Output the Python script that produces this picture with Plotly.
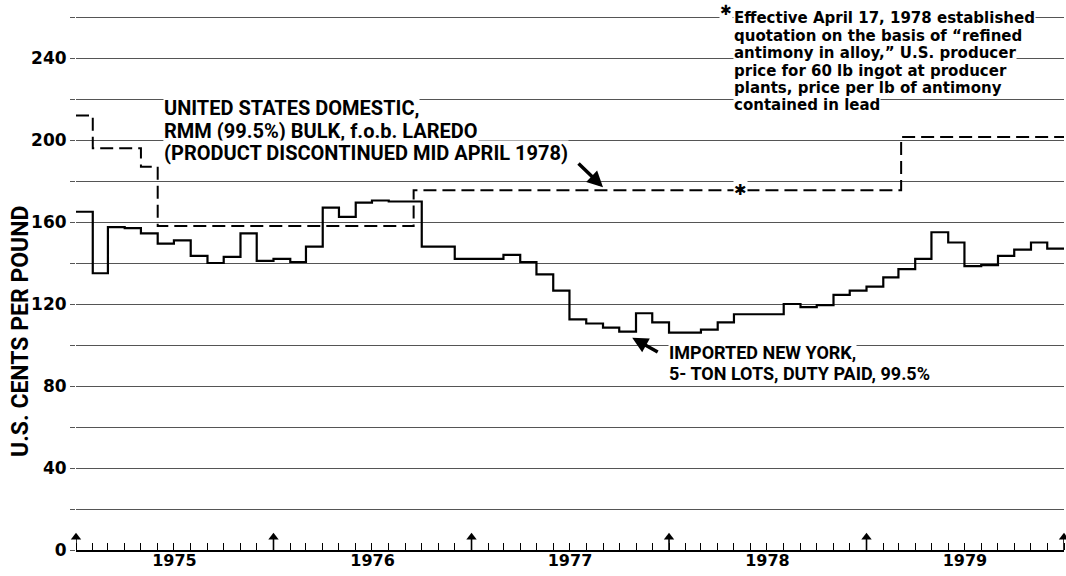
import plotly.graph_objects as go
import pandas as pd

# ---------------- data ----------------
months = list(pd.date_range("1975-01-01", "1979-12-01", freq="MS"))
imported_ny = [
    165, 135, 157.5, 157, 154.5, 149.5, 151, 143.5, 140, 143, 154.5, 141,      # 1975
    142, 140.5, 148, 167, 162.5, 169.5, 170.5, 170, 170, 148, 148, 142,        # 1976
    142, 142, 144, 140.5, 134.5, 126.5, 112.5, 110.5, 108.5, 106.5, 115.5, 111,  # 1977
    106, 106, 107.5, 111, 115, 115, 115, 120, 118.5, 119.5, 124.5, 126.5,      # 1978
    128.5, 133, 137, 142, 155, 150, 138.5, 139, 143.5, 146.5, 150, 147,        # 1979
]
end_date = "1980-01-01"

domestic_dates = ["1975-01-01", "1975-02-01", "1975-05-01", "1975-06-01",
                  "1976-09-16", "1979-03-06", "1980-01-01"]
domestic_vals = [212, 196, 187, 158, 175.5, 201.5, 201.5]

asterisk_date = "1978-05-13"
asterisk_val = 175.5

year_bounds = ["1975-01-01", "1976-01-01", "1977-01-01", "1978-01-01",
               "1979-01-01", "1980-01-01"]
year_label_pos = ["1975-07-02", "1976-07-02", "1977-07-02", "1978-07-02", "1979-07-02"]
year_labels = ["1975", "1976", "1977", "1978", "1979"]

ytick_vals = [0, 20, 40, 60, 80, 100, 120, 140, 160, 180, 200, 220, 240, 260]
ytick_text = ["0", "", "40", "", "80", "", "120", "", "160", "", "200", "", "240", ""]

domestic_label = ["UNITED STATES DOMESTIC,",
                  "RMM (99.5%) BULK, f.o.b. LAREDO",
                  "(PRODUCT DISCONTINUED MID APRIL 1978)"]
imported_label = ["IMPORTED NEW YORK,",
                  "5- TON LOTS, DUTY PAID, 99.5%"]
footnote = ["Effective April 17, 1978 established",
            "quotation on the basis of \u201crefined",
            "antimony in alloy,\u201d U.S. producer",
            "price for 60 lb ingot at producer",
            "plants, price per lb of antimony",
            "contained in lead"]

# ---------------- layout constants ----------------
W, H = 1066, 576
ML, MR, MT, MB = 76, 2, 0, 26
PW, PH = W - ML - MR, H - MT - MB
TXT = "Roboto, 'DejaVu Sans', sans-serif"
NUM = "'DejaVu Sans', sans-serif"

fig = go.Figure()

# domestic (dashed)
fig.add_trace(go.Scatter(
    x=domestic_dates, y=domestic_vals, mode="lines", line_shape="hv",
    line=dict(color="black", width=2, dash="13px,6px"), hoverinfo="skip", showlegend=False))

# imported NY (solid)
fig.add_trace(go.Scatter(
    x=months + [pd.Timestamp(end_date)], y=imported_ny + [imported_ny[-1]],
    mode="lines", line_shape="hv", line=dict(color="black", width=2.2),
    hoverinfo="skip", showlegend=False))

# year-boundary arrows on the time axis
sx, sy = [], []
for d in year_bounds:
    sx += [d, d, None]
    sy += [0, 6, None]
fig.add_trace(go.Scatter(x=sx, y=sy, mode="lines", line=dict(color="black", width=1.6),
                         hoverinfo="skip", showlegend=False, cliponaxis=False))
fig.add_trace(go.Scatter(x=year_bounds, y=[6.2] * len(year_bounds), mode="markers",
                         marker=dict(symbol="triangle-up", size=9, color="black"),
                         hoverinfo="skip", showlegend=False, cliponaxis=False))

ann = []


def px_x(xp):
    return (xp - ML) / PW


def px_y(yp):
    return 1 - (yp - MT) / PH


def add_lines(lines, x_px, y0_px, dy, size, family=TXT, reverse=False):
    items = list(enumerate(lines))
    if reverse:
        items = items[::-1]
    for i, t in items:
        ann.append(dict(xref="paper", yref="paper", x=px_x(x_px), y=px_y(y0_px + i * dy),
                        xanchor="left", yanchor="middle", text=f"<b>{t}</b>", showarrow=False,
                        font=dict(family=family, size=size, color="black"),
                        bgcolor="white", borderpad=0))


add_lines(domestic_label, 163, 108, 22.5, 20)
add_lines(imported_label, 668, 352, 21.5, 18)
add_lines(footnote, 733, 18, 17.5, 15, family=NUM, reverse=True)

# footnote asterisk
ann.append(dict(xref="paper", yref="paper", x=px_x(733), y=px_y(10), xanchor="right",
                yanchor="middle", text="<b>\u2731</b>", showarrow=False,
                font=dict(family=NUM, size=14, color="black"), bgcolor="white", borderpad=0))

# asterisk on the dashed line
ann.append(dict(x=asterisk_date, y=asterisk_val, xref="x", yref="y", text="<b>\u2731</b>",
                showarrow=False, font=dict(family=NUM, size=15, color="black"),
                bgcolor="white", borderpad=0))

# arrows pointing to the lines
ann.append(dict(x="1977-09-01", y=177, xref="x", yref="y", text="", showarrow=True,
                ax=-26, ay=-25, arrowhead=2, arrowsize=0.9, arrowwidth=3.5, arrowcolor="black"))
ann.append(dict(x="1977-10-25", y=103.5, xref="x", yref="y", text="", showarrow=True,
                ax=27, ay=15, arrowhead=2, arrowsize=0.9, arrowwidth=3.5, arrowcolor="black"))

# y-axis title
ann.append(dict(xref="paper", yref="paper", x=px_x(20), y=px_y(332), xanchor="center",
                yanchor="middle", text="<b>U.S. CENTS PER POUND</b>", textangle=-90,
                showarrow=False, font=dict(family=TXT, size=23, color="black")))

fig.update_layout(
    width=W, height=H, margin=dict(l=ML, r=MR, t=MT, b=MB),
    paper_bgcolor="white", plot_bgcolor="white", showlegend=False,
    annotations=ann,
    xaxis=dict(type="date", range=[year_bounds[0], year_bounds[-1]],
               showgrid=False, zeroline=False, showline=True, linecolor="black", linewidth=2,
               tickmode="array", tickvals=year_label_pos, ticktext=year_labels, ticks="",
               ticklabelstandoff=-5,
               tickfont=dict(family=NUM, size=16, color="black", weight="bold"),
               minor=dict(tickmode="linear", tick0=year_bounds[0], dtick="M1",
                          ticks="inside", ticklen=7, tickwidth=1.2, tickcolor="black",
                          showgrid=False)),
    yaxis=dict(range=[0, PH / 2.05], tickmode="array", tickvals=ytick_vals, ticktext=ytick_text,
               showgrid=True, gridcolor="#555", gridwidth=1, zeroline=False, showline=False,
               ticks="outside", ticklen=5, tickcolor="#555", tickwidth=1,
               tickfont=dict(family=NUM, size=17, color="black", weight="bold")),
)

fig.write_html("out.html", config={"displayModeBar": False},
               post_script="document.body.style.margin='0px';")
